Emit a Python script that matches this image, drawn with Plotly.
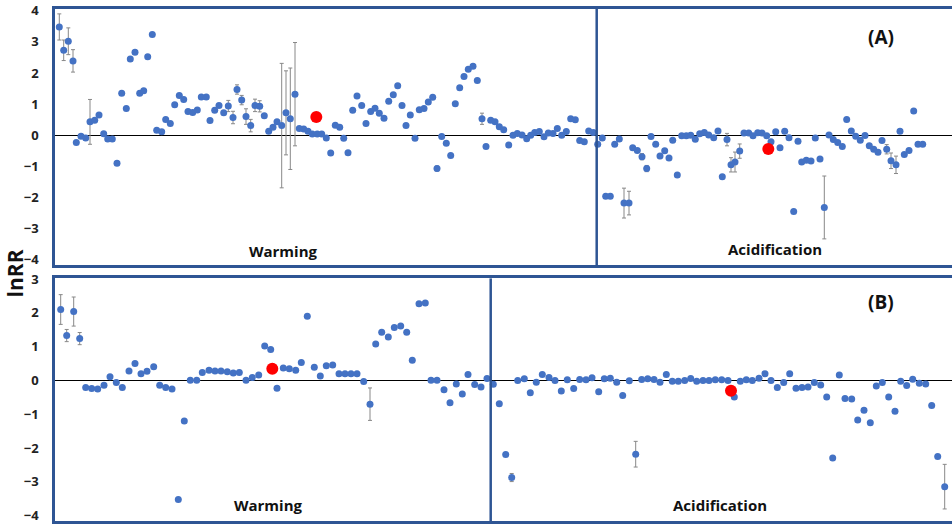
import plotly.graph_objects as go

# ---- Panel A: study position along the axis, lnRR and its error ----
a_pos = [59.3, 63.7, 68.3, 73, 76.3, 81, 85.7, 90, 94.7, 99, 103.7, 107.7, 112.3, 117, 121.7,
         126.3, 130.3, 135, 139.7, 143.7, 147.7, 152.3, 156.7, 161.7, 165.7, 170.3, 174.7, 179.3,
         183.7, 188, 192.7, 197.3, 201.3, 206.3, 210, 214.7, 219, 223.7, 228.3, 233, 237, 241.7,
         246, 250.7, 255, 259.7, 264.3, 268.7, 273, 277, 281.7, 286, 290.3, 295, 299.3, 303.7,
         308, 312.3, 317.3, 321.7, 326.3, 330.7, 335.3, 339.7, 343.7, 348, 352.7, 357, 361.7,
         366, 370.7, 375, 379.3, 384, 388.7, 393.3, 397.7, 402, 406, 410.3, 415, 419.3, 424,
         428.3, 432.7, 437, 441.7, 446.3, 450.7, 455.3, 459.7, 464, 468.3, 473, 477.3, 482, 486,
         490.7, 495, 499.3, 503.7, 508.7, 513, 517.3, 522, 526.7, 530.7, 534.7, 539.3, 544,
         548.3, 553, 557.3, 561.7, 566.3, 570.7, 575.3, 579.7, 584.3, 588.7, 593.3,
         597.7, 602.3, 605.7, 610.3, 614.7, 619.3, 624, 629, 632.7, 637.3, 642, 646.7, 651,
         655.7, 660, 664.7, 669, 672.7, 677.3, 681.7, 686.3, 690.7, 695.3, 699.7, 704.3, 708.7,
         713.7, 718, 722.3, 727, 731, 735, 739.7, 744, 748.7, 753, 757.7, 762, 766.7, 771,
         775.7, 780, 784.7, 789, 793.7, 798, 801.7, 806.3, 811, 815.3, 820, 824.3, 829, 833.3,
         837.7, 842.3, 846.7, 851.3, 855.7, 860.3, 865, 869.3, 873.7, 878, 882, 886.7, 891,
         896, 900, 904.3, 909, 913.7, 918, 922.7]
a_lnrr = [3.48, 2.73, 3.02, 2.39, -0.23, -0.03, -0.09, 0.43, 0.48, 0.65, 0.05, -0.12, -0.12,
          -0.90, 1.35, 0.86, 2.45, 2.67, 1.35, 1.43, 2.52, 3.24, 0.16, 0.11, 0.51, 0.38, 0.98,
          1.28, 1.15, 0.76, 0.73, 0.81, 1.23, 1.23, 0.47, 0.80, 0.96, 0.72, 0.94, 0.57, 1.47,
          1.13, 0.60, 0.31, 0.96, 0.93, 0.63, 0.13, 0.26, 0.43, 0.31, 0.72, 0.53, 1.32, 0.22,
          0.20, 0.13, 0.04, 0.04, 0.04, -0.09, -0.57, 0.32, 0.26, -0.10, -0.56, 0.80, 1.26,
          0.96, 0.38, 0.76, 0.87, 0.71, 0.55, 1.09, 1.30, 1.59, 0.96, 0.31, 0.65, -0.10, 0.82,
          0.86, 1.07, 1.22, -1.07, -0.04, -0.26, -0.65, 1.01, 1.53, 1.89, 2.12, 2.22, 1.76,
          0.53, -0.36, 0.48, 0.43, 0.27, 0.18, -0.31, 0.0, 0.06, 0.01, -0.11, 0.0, 0.09, 0.12,
          -0.05, 0.07, 0.06, 0.22, 0.0, 0.12, 0.53, 0.50, -0.17, -0.21, 0.14, 0.09,
          -0.29, -0.09, -1.96, -1.96, -0.29, -0.12, -2.18, -2.18, -0.40, -0.49, -0.69, -1.07,
          -0.04, -0.29, -0.67, -0.50, -0.73, -0.16, -1.28, -0.02, -0.02, 0.0, -0.13, 0.05, 0.09,
          0.01, -0.08, 0.14, -1.33, -0.14, -0.95, -0.86, -0.51, 0.07, 0.07, -0.02, 0.08, 0.07,
          -0.02, -0.21, 0.11, -0.40, 0.13, -0.08, -2.45, -0.19, -0.86, -0.80, -0.83, -0.09,
          -0.76, -2.32, 0.01, -0.14, -0.23, -0.36, 0.51, 0.14, -0.03, -0.16, -0.01, -0.34,
          -0.45, -0.55, -0.17, -0.45, -0.82, -0.95, 0.13, -0.62, -0.49, 0.78, -0.29, -0.29]
a_err = {0: 0.42, 1: 0.33, 2: 0.43, 3: 0.36, 7: 0.72, 38: 0.18, 39: 0.2, 40: 0.15, 41: 0.15,
         42: 0.25, 43: 0.2, 44: 0.2, 45: 0.18, 50: 2.0, 51: 1.35, 52: 1.63, 53: 1.66, 85: 0.08,
         95: 0.18, 127: 0.48, 128: 0.38, 131: 0.1, 132: 0.1, 135: 0.08, 150: 0.2, 151: 0.23,
         152: 0.32, 153: 0.23, 172: 1.01, 186: 0.15, 187: 0.25, 188: 0.28}
a_mean_pos = [316.3, 768.3]
a_mean_lnrr = [0.59, -0.44]

# ---- Panel B ----
b_pos = [60.7, 66.7, 73.7, 79.7, 85.7, 91.7, 97.7, 104, 110, 116.3, 122.3, 129, 135, 141, 147,
         153.7, 159.7, 165.7, 172, 178.3, 184.3, 190.3, 196.7, 202.3, 209, 215, 221, 227.3,
         233.3, 239.3, 246, 252.3, 258.7, 264.7, 270.7, 277, 283.3, 289.3, 295.7, 301.3, 307.3,
         314.3, 320.3, 326.3, 332.7, 339, 345, 351, 357, 363.7, 370, 375.7, 381.7, 388.3,
         394.3, 400.7, 406.7, 412.3, 419, 425.3, 431, 437, 444, 450, 456.3, 462.3, 468, 474.7,
         481, 487,
         493.3, 499.3, 505.7, 511.7, 517.7, 524.3, 530.3, 536.3, 542.3, 549, 555, 561.3,
         567.3, 573.7, 579.7, 586, 592, 598.7, 604.3, 610.3, 616.7, 622.7, 629.3, 635.7, 641.7,
         647.7, 654, 660, 666.3, 672.3, 678.3, 684.7, 690.7, 696.7, 703, 709, 715.3, 721.7,
         728, 734.3, 740.3, 746.3, 752.3, 759, 765, 771, 777.3, 783.7, 789.7, 796, 802, 808,
         814.3, 820.7, 826.7, 832.7, 839.3, 845, 851.7, 857.7, 864, 870.3, 876.3, 882.3, 888.7,
         895, 900.7, 906.7, 912.7, 919.3, 925.7, 931.7, 937.7, 944.7]
b_lnrr = [2.10, 1.33, 2.04, 1.24, -0.21, -0.24, -0.25, -0.14, 0.11, -0.06, -0.21, 0.28, 0.50,
          0.20, 0.27, 0.41, -0.14, -0.21, -0.25, -3.52, -1.20, 0.01, 0.01, 0.24, 0.30, 0.28,
          0.28, 0.26, 0.22, 0.24, 0.01, 0.09, 0.16, 1.02, 0.92, -0.23, 0.37, 0.35, 0.30, 0.53,
          1.90, 0.39, 0.13, 0.44, 0.46, 0.20, 0.20, 0.20, 0.20, -0.03, -0.70, 1.08, 1.43, 1.29,
          1.57, 1.61, 1.43, 0.60, 2.27, 2.29, 0.01, 0.01, -0.27, -0.66, -0.10, -0.40, 0.18,
          -0.12, -0.19, 0.06,
          -0.11, -0.69, -2.19, -2.87, 0.0, 0.05, -0.36, -0.05, 0.18, 0.09, 0.0, -0.31, 0.02,
          -0.24, 0.03, 0.02, 0.08, -0.33, 0.05, 0.07, -0.05, -0.44, -0.01, -2.18, 0.03, 0.05,
          0.03, -0.05, 0.18, -0.02, -0.02, 0.0, 0.06, -0.02, 0.0, 0.0, 0.02, 0.02, 0.0, -0.49,
          -0.02, 0.02, 0.0, 0.07, 0.20, 0.0, -0.21, -0.06, 0.20, -0.23, -0.21, -0.19, -0.06,
          -0.13, -0.49, -2.29, 0.16, -0.53, -0.55, -1.17, -0.88, -1.25, -0.16, -0.06, -0.49,
          -0.91, -0.02, -0.15, 0.04, -0.08, -0.10, -0.74, -2.25, -3.14]
b_err = {0: 0.44, 1: 0.18, 2: 0.43, 3: 0.18, 50: 0.48, 63: 0.05, 73: 0.12, 76: 0.06,
         93: 0.38, 127: 0.05, 129: 0.05, 143: 0.66}
b_mean_pos = [272.3, 731]
b_mean_lnrr = [0.35, -0.30]

# ---- panel dividers (start of the acidification studies) and labels ----
a_split = 596.7
b_split = 490.7
section_labels = ["Warming", "Acidification"]
panel_labels = ["(A)", "(B)"]
a_ticks = [-4, -3, -2, -1, 0, 1, 2, 3, 4]
b_ticks = [-4, -3, -2, -1, 0, 1, 2, 3]

BLUE = "#4472C4"
FRAME = "#2E5594"
FONT = "Open Sans"


def err_list(n, errs):
    return [errs.get(i, 0) for i in range(n)]


fig = go.Figure()
for pos, val, errs, mpos, mval, xa, ya in [
    (a_pos, a_lnrr, a_err, a_mean_pos, a_mean_lnrr, "x", "y"),
    (b_pos, b_lnrr, b_err, b_mean_pos, b_mean_lnrr, "x2", "y2"),
]:
    fig.add_trace(go.Scatter(
        x=pos, y=val, mode="markers", xaxis=xa, yaxis=ya,
        marker=dict(color=BLUE, size=7, line=dict(width=0)),
        error_y=dict(type="data", array=err_list(len(val), errs), color="#888888",
                     thickness=1, width=2),
        showlegend=False, hoverinfo="x+y"))
    fig.add_trace(go.Scatter(
        x=mpos, y=mval, mode="markers", xaxis=xa, yaxis=ya,
        marker=dict(color="#FF0000", size=12, line=dict(width=0)),
        showlegend=False))

axis_common = dict(showgrid=False, showline=True, linecolor=FRAME, linewidth=2.5,
                   zeroline=True, zerolinecolor="black", zerolinewidth=1,
                   tickfont=dict(family=FONT, size=13, color="#222222", weight="bold"),
                   ticks="", ticklabelstandoff=11, ticklabeloverflow="allow")
xaxis_common = dict(range=[55, 952], showgrid=False, showline=True, linecolor=FRAME,
                    linewidth=2.5, mirror=True, showticklabels=False, zeroline=False,
                    ticks="")

fig.update_layout(
    width=952, height=524,
    margin=dict(l=55, r=0, t=7, b=2),
    plot_bgcolor="white", paper_bgcolor="white",
    xaxis=dict(domain=[0, 1], anchor="y", **xaxis_common),
    yaxis=dict(domain=[0.4996, 1], anchor="x", range=[-4.176, 4.057],
               tickvals=a_ticks, **axis_common),
    xaxis2=dict(domain=[0, 1], anchor="y2", **xaxis_common),
    yaxis2=dict(domain=[0, 0.4738], anchor="x2", range=[-4.156, 3.02],
                tickvals=b_ticks, **axis_common),
)

# vertical divider between warming and acidification studies
fig.add_shape(type="line", xref="x", yref="y domain", x0=a_split, x1=a_split, y0=0, y1=1,
              line=dict(color=FRAME, width=2.5))
fig.add_shape(type="line", xref="x2", yref="y2 domain", x0=b_split, x1=b_split, y0=0, y1=1,
              line=dict(color=FRAME, width=2.5))

lab_font = dict(family=FONT, size=15, color="#111111", weight="bold")
ann = [
    dict(x=283, y=-3.71, xref="x", yref="y", text=section_labels[0]),
    dict(x=775, y=-3.66, xref="x", yref="y", text=section_labels[1]),
    dict(x=268, y=-3.69, xref="x2", yref="y2", text=section_labels[0]),
    dict(x=720, y=-3.69, xref="x2", yref="y2", text=section_labels[1]),
]
for a in ann:
    fig.add_annotation(showarrow=False, font=lab_font, xanchor="center", yanchor="middle", **a)

fig.add_annotation(x=881, y=3.16, xref="x", yref="y", text=panel_labels[0], showarrow=False,
                   font=dict(family=FONT, size=19, color="#111111", weight="bold"))
fig.add_annotation(x=881, y=2.31, xref="x2", yref="y2", text=panel_labels[1], showarrow=False,
                   font=dict(family=FONT, size=19, color="#111111", weight="bold"))

fig.add_annotation(x=-0.0446, y=0.4835, xref="paper", yref="paper", text="lnRR",
                   textangle=-90, showarrow=False, xanchor="center", yanchor="middle",
                   font=dict(family=FONT, size=21, color="#111111", weight="bold"))

fig.write_html("out.html")
